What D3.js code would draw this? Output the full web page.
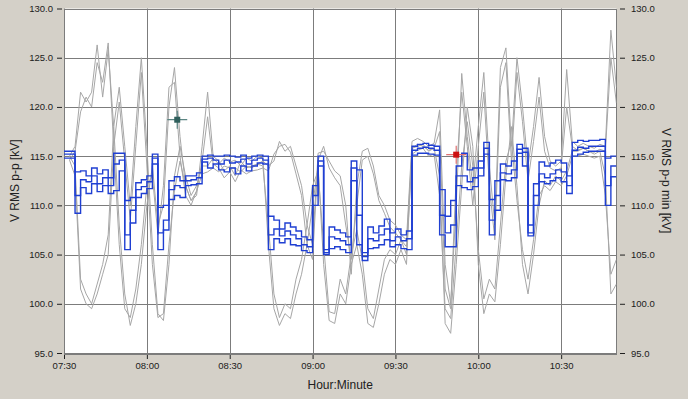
<!DOCTYPE html>
<html>
<head>
<meta charset="utf-8">
<script src="https://cdn.jsdelivr.net/npm/d3@7"></script>
<style>
  body { margin: 0; background: #d4d0c8; }
  svg { display: block; font-family: Arial, "Liberation Sans", sans-serif; }
</style>
</head>
<body>
<div id="chart"></div>
<script>
// sampled every 2 minutes starting 07:30
const startTime = "07:30", endTime = "10:50", sampleStep = 2;
const yTicks = [95, 100, 105, 110, 115, 120, 125, 130];
const xTickLabels = ["07:30", "08:00", "08:30", "09:00", "09:30", "10:00", "10:30"];

// grey traces (V RMS p-p, per phase)
const greyH = [null, 115, 116, 121.5, 120.5, 121.5, 126.3, 121, 125.8, 118,
  108, 101, 97.8, 100, 104, 110, 114, 108, 110, 120,
  124, 117, 112, 110.5, 111, 116, 121.5, 115, 114.5, 113.5,
  114, 113, 114.5, 113.8, 114, 114.2, 114.5, 114, 114.5, 116.5,
  115.5, 116, 114, 112, 108, 106, 115.3, 115.5, 114.5, 113.5,
  113, 110, 103, 112, 115.5, 115.8, 114, 111, 110, 108.5,
  108, 107, 106.5, 116.5, 116.8, 116.5, 116, 116.3, 119.7, 104,
  100, 110, 123.4, 117, 112, 118, 123.5, 114, 108, 124,
  126, 116, 125, 120, 114, 118, 123, 117, 114.5, 114,
  114.5, 123.8, 116.5, 116, 116.3, 116, 115.8, 116.2, 116, 127.8, 122];
const greyH2 = [null, 114.6, 115.5, 119.5, 121, 120, 124.5, 122.5, 126.5, 116,
  106, 99.5, 98.6, 101.5, 106, 112, 113, 107, 112, 122,
  122.5, 115, 111, 110, 111.5, 114.5, 119, 114.2, 113.8, 112.8,
  113.4, 112.4, 113.6, 113.2, 113.5, 113.6, 113.8, 113.5, 115.2, 116,
  116.2, 115.4, 113.2, 111, 106, 104.5, 114.6, 116, 113.8, 112.8,
  112, 108, 104.5, 110, 114.6, 115, 113.2, 110.5, 109.2, 107.8,
  107.2, 106.5, 105.8, 115.8, 116.2, 116, 115.6, 115.8, 117.5, 101.5,
  99.5, 113, 121.5, 116, 110, 116, 121.5, 112, 106.5, 122,
  124.5, 114.5, 123.5, 118.5, 112.5, 116.5, 121, 115.5, 113.8, 113.5,
  113.8, 120, 116, 115.6, 115.8, 115.5, 115.4, 115.7, 115.5, 125, 120.4];
const greyL = [null, 115, 114, 102.5, 101, 100, 102, 104, 107, 118,
  122, 116, 110, 118, 125, 116, 106, 99, 98.3, 104,
  113, 116, 113, 111, 112, 114, 114, 114.8, 114.2, 114.8,
  114.4, 114.6, 114, 114.8, 114.5, 115, 114.8, 106, 99.5, 97.8,
  99, 98.5, 101, 103, 106, 110, 114, 104, 98.3, 98,
  101, 100, 104, 106, 103, 98, 97.6, 100, 103, 104.5,
  104, 105.5, 104, 115.8, 116, 116.2, 115.5, 115.8, 113, 98,
  97, 104, 112, 120, 116, 104, 99, 101, 100.2, 106,
  113, 118, 112, 104, 101, 105, 110, 112.5, 112, 113,
  112.5, 113.5, 115.5, 115.5, 115.8, 115.5, 115.2, 115.5, 113, 101, 102];
const greyL2 = [null, 114.6, 113, 101.5, 100, 99.5, 101, 103, 105, 116,
  120.5, 114.5, 108.5, 116, 123.5, 114, 104, 98.6, 99, 106,
  111.5, 114.5, 112, 110.5, 111.4, 113.2, 113.4, 113.8, 113.4, 114,
  113.8, 113.8, 113.4, 114, 113.8, 114.2, 114, 108, 101, 98.6,
  100, 99.5, 102.5, 104.5, 108, 112, 113.5, 106, 99.2, 99,
  102.5, 101, 105, 107.5, 104.5, 99.5, 98.5, 101.5, 104.5, 105.5,
  105, 106.5, 105, 115.2, 115.6, 115.8, 115, 115.2, 111, 99.5,
  98.5, 106, 114, 118.5, 114, 105.5, 100.5, 102.5, 101.5, 108,
  114.5, 116.5, 110.5, 105.5, 102.5, 106.5, 111, 112, 111.5, 112.4,
  112, 113, 115, 115, 115.2, 115, 114.8, 115, 111, 103, 104.5];

// blue step traces
const blue1 = [115.5, 115.5, 113.4, 113.5, 113.0, 113.8, 113.2, 113.6, 112.8, 115.3,
  115.3, 110.5, 110.8, 112.3, 112.6, 113.0, 115.2, 109.8, 110.0, 112.5,
  112.9, 112.5, 113.0, 113.0, 113.3, 115.0, 115.1, 115.0, 115.0, 115.1,
  115.0, 114.9, 115.1, 114.8, 115.0, 115.1, 115.0, 108.9, 108.5, 107.6,
  108.2, 107.8, 107.4, 106.8, 106.5, 112.0, 115.0, 105.5, 107.8, 107.5,
  107.2, 106.8, 114.5, 113.6, 105.2, 107.8, 107.2, 107.9, 108.6, 107.2,
  107.6, 107.0, 107.4, 116.0, 116.2, 116.3, 116.1, 116.0, 111.6, 108.9,
  110.5, 114.0, 115.3, 113.6, 113.8, 114.5, 116.4, 110.6, 112.5, 114.2,
  114.0, 114.5, 116.2, 115.8, 108.0, 112.2, 114.4, 114.0, 114.3, 114.6,
  114.3, 113.0, 116.4, 116.6, 116.5, 116.6, 116.6, 116.7, 114.8, 115.0];
const blue2 = [115.2, 115.2, 111.0, 112.6, 112.4, 113.0, 112.2, 112.8, 112.0, 114.2,
  114.6, 107.0, 109.5, 111.6, 111.9, 112.4, 114.8, 107.2, 108.5, 111.6,
  112.0, 111.8, 112.5, 112.6, 112.8, 114.7, 114.8, 114.6, 114.2, 114.6,
  114.3, 114.4, 114.7, 114.2, 114.6, 114.8, 114.6, 107.0, 107.6, 106.9,
  107.4, 107.0, 106.6, 106.0, 105.8, 111.0, 114.5, 105.2, 106.8, 106.6,
  106.4, 106.0, 113.8, 109.0, 104.8, 106.6, 106.4, 107.0, 107.6, 106.4,
  106.8, 106.4, 106.6, 115.6, 115.8, 115.9, 115.8, 115.6, 109.0, 107.2,
  108.0, 113.0, 113.0, 112.4, 112.8, 113.8, 115.8, 108.5, 111.0, 113.3,
  113.2, 113.6, 115.7, 115.4, 107.2, 111.0, 113.2, 112.8, 113.2, 113.6,
  113.4, 112.0, 115.6, 115.9, 115.8, 116.0, 116.0, 116.0, 112.0, 114.0];
const blue3 = [114.8, 114.8, 109.2, 111.8, 111.2, 112.2, 111.4, 112.0, 111.2, 111.5,
  113.5, 105.5, 108.2, 110.8, 111.2, 111.7, 114.2, 105.5, 107.5, 110.6,
  111.0, 110.8, 112.0, 112.1, 112.2, 114.4, 113.8, 114.2, 113.6, 113.4,
  113.8, 113.2, 114.0, 113.5, 114.0, 114.3, 114.2, 105.5, 106.6, 106.2,
  106.6, 106.0, 105.9, 105.4, 105.2, 110.0, 114.0, 105.0, 105.6, 105.8,
  105.5, 105.2, 112.5, 106.0, 104.4, 105.6, 105.7, 106.0, 106.5, 105.8,
  106.0, 105.6, 105.5, 115.1, 115.3, 115.3, 115.2, 115.1, 107.0, 105.8,
  105.8, 112.0, 111.8, 111.6, 111.9, 113.0, 115.2, 107.0, 109.5, 112.6,
  112.5, 112.8, 115.3, 114.0, 106.9, 110.0, 112.4, 112.2, 112.5, 112.8,
  112.4, 111.2, 115.0, 115.2, 115.4, 115.5, 115.5, 115.5, 110.0, 112.9];

// cursors
const cursorTimes = ["08:11", "09:52"];
const cursorValues = [118.7, 115.15];
const cursorColors = [["#2f5f5c", "#5b8583"], ["#cc1010", "#e07070"]];

const W = 688, H = 399;
const plot = { left: 64, right: 616.4, top: 8.5, bottom: 353 };

const parseTime = d3.timeParse("%H:%M");
const t0 = parseTime(startTime);
const tAt = i => d3.timeMinute.offset(t0, i * sampleStep);

const x = d3.scaleTime()
  .domain([t0, parseTime(endTime)])
  .range([plot.left, plot.right]);
const y = d3.scaleLinear()
  .domain([95, 130])
  .range([plot.bottom, plot.top]);

const svg = d3.select("#chart").append("svg")
  .attr("width", W)
  .attr("height", H);

svg.append("rect")
  .attr("x", plot.left).attr("y", plot.top)
  .attr("width", plot.right - plot.left).attr("height", plot.bottom - plot.top)
  .attr("fill", "#ffffff");

const xTicks = xTickLabels.map(parseTime);
const crisp = v => Math.round(v) + 0.5;

// grid
svg.append("g").selectAll("line.h")
  .data(yTicks)
  .enter().append("line")
  .attr("x1", plot.left).attr("x2", plot.right)
  .attr("y1", d => crisp(y(d))).attr("y2", d => crisp(y(d)))
  .attr("stroke", "#7c7c7c");
svg.append("g").selectAll("line.v")
  .data(xTicks)
  .enter().append("line")
  .attr("y1", plot.top).attr("y2", plot.bottom)
  .attr("x1", d => crisp(x(d))).attr("x2", d => crisp(x(d)))
  .attr("stroke", "#7c7c7c");
svg.append("rect")
  .attr("x", crisp(plot.left)).attr("y", crisp(plot.top))
  .attr("width", Math.round(plot.right - plot.left)).attr("height", Math.round(plot.bottom - plot.top))
  .attr("fill", "none").attr("stroke", "#7c7c7c");

const plotArea = svg.append("g");
svg.append("clipPath").attr("id", "clip").append("rect")
  .attr("x", plot.left).attr("y", plot.top)
  .attr("width", plot.right - plot.left).attr("height", plot.bottom - plot.top);
plotArea.attr("clip-path", "url(#clip)");

const greyLine = d3.line()
  .defined(d => d != null)
  .x((d, i) => x(tAt(i)))
  .y(d => y(d));

[greyH, greyH2, greyL, greyL2].forEach(s => {
  plotArea.append("path")
    .datum(s)
    .attr("d", greyLine)
    .attr("fill", "none")
    .attr("stroke", "#a6a6a6")
    .attr("stroke-width", 1);
});

const blueLine = d3.line()
  .curve(d3.curveStepAfter)
  .x((d, i) => x(tAt(i)))
  .y(d => y(d));

[blue1, blue2, blue3].forEach(s => {
  plotArea.append("path")
    .datum(s.concat([s[s.length - 1]]))
    .attr("d", blueLine)
    .attr("fill", "none")
    .attr("stroke", "#1f3fd2")
    .attr("stroke-width", 1.4);
});

// cursors
cursorTimes.forEach((t, k) => {
  const cx = x(parseTime(t)), cy = y(cursorValues[k]);
  const g = plotArea.append("g");
  g.append("line").attr("x1", cx - 10).attr("x2", cx + 10).attr("y1", cy).attr("y2", cy)
    .attr("stroke", cursorColors[k][1]).attr("stroke-width", 1.2);
  g.append("line").attr("x1", cx).attr("x2", cx).attr("y1", cy - 9).attr("y2", cy + 9)
    .attr("stroke", cursorColors[k][1]).attr("stroke-width", 1.2);
  g.append("rect").attr("x", cx - 3).attr("y", cy - 3).attr("width", 6).attr("height", 6)
    .attr("fill", cursorColors[k][0]);
});

// axes
const fmt = d3.format(".1f");
const left = svg.append("g")
  .attr("transform", "translate(62,0)")
  .call(d3.axisLeft(y).tickValues(yTicks).tickFormat(fmt).tickSize(5).tickPadding(4));
const right = svg.append("g")
  .attr("transform", "translate(620,0)")
  .call(d3.axisRight(y).tickValues(yTicks).tickFormat(fmt).tickSize(5).tickPadding(6));
const bottom = svg.append("g")
  .attr("transform", "translate(0,355)")
  .call(d3.axisBottom(x).tickValues(xTicks).tickFormat(d3.timeFormat("%H:%M")).tickSize(4).tickPadding(3));

[left, right, bottom].forEach(a => {
  a.select(".domain").remove();
  a.selectAll("line").attr("stroke", "#202020");
  a.selectAll("text").attr("fill", "#202020")
    .style("font-family", "Arial, 'Liberation Sans', sans-serif")
    .style("font-size", "9.5px");
});

// titles
svg.append("text")
  .attr("transform", "translate(19," + ((plot.top + plot.bottom) / 2) + ") rotate(-90)")
  .attr("text-anchor", "middle")
  .attr("font-size", 12)
  .attr("fill", "#202020")
  .text("V RMS p-p [kV]");
svg.append("text")
  .attr("transform", "translate(662," + ((plot.top + plot.bottom) / 2) + ") rotate(90)")
  .attr("text-anchor", "middle")
  .attr("font-size", 12)
  .attr("fill", "#202020")
  .text("V RMS p-p min [kV]");
svg.append("text")
  .attr("x", (plot.left + plot.right) / 2)
  .attr("y", 389)
  .attr("text-anchor", "middle")
  .attr("font-size", 12)
  .attr("fill", "#202020")
  .text("Hour:Minute");
</script>
</body>
</html>
